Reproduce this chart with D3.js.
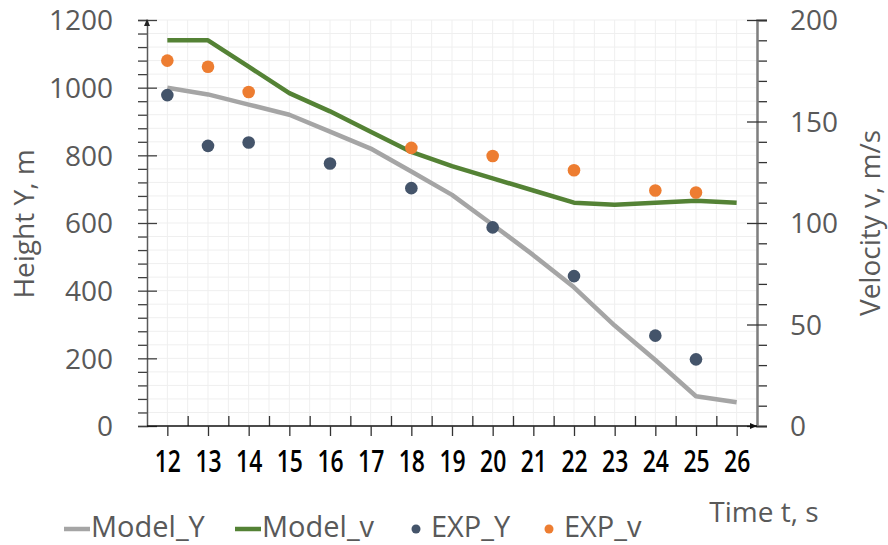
<!DOCTYPE html>
<html>
<head>
<meta charset="utf-8">
<script src="https://cdn.jsdelivr.net/npm/d3@7"></script>
<style>
  html, body { margin: 0; padding: 0; background: #fff; }
  svg { display: block; }
</style>
</head>
<body>
<svg id="chart" width="888" height="545"></svg>
<script>
// ---- data ----
const categories = [12, 13, 14, 15, 16, 17, 18, 19, 20, 21, 22, 23, 24, 25, 26];
const modelY = [1000, 980, 950, 920, 870, 820, 752, 683, 595, 505, 410, 297, 195, 88, 70];
const modelV = [190, 190, 177, 164, 155, 145, 135, 128, 122, 116, 110, 109, 110, 111, 110];
const expYTimes = [12, 13, 14, 16, 18, 20, 22, 24, 25];
const expYValues = [978, 828, 838, 776, 703, 587, 443, 267, 197];
const expVTimes = [12, 13, 14, 18, 20, 22, 24, 25];
const expVValues = [180, 177, 164.5, 137, 133, 126, 116, 115];
const leftTicks = [0, 200, 400, 600, 800, 1000, 1200];
const rightTicks = [0, 50, 100, 150, 200];
const legendItems = ["Model_Y", "Model_v", "EXP_Y", "EXP_v"];

// ---- layout ----
const svg = d3.select("#chart");
const L = 147, R = 757, T = 20, B = 426;
const x = d3.scaleLinear().domain([11.5, 26.5]).range([L, R]);
const yL = d3.scaleLinear().domain([0, 1200]).range([B, T]);
const yR = d3.scaleLinear().domain([0, 200]).range([B, T]);

const textFont = "'Open Sans', 'Noto Sans', sans-serif";
const textColor = "#595959";
const fs = 28;
const colors = { modelY: "#a5a5a5", modelV: "#548235", expY: "#44546a", expV: "#ed7d31" };

// ---- gridlines ----
const grid = svg.append("g");
grid.selectAll("line.h").data(d3.range(40, 1201, 40)).join("line")
  .attr("x1", L).attr("x2", R)
  .attr("y1", d => yL(d)).attr("y2", d => yL(d))
  .attr("stroke", "#efefef").attr("stroke-width", 1);
grid.selectAll("line.v").data(d3.range(12, 26.51, 0.5)).join("line")
  .attr("y1", T).attr("y2", B)
  .attr("x1", d => x(d)).attr("x2", d => x(d))
  .attr("stroke", "#efefef").attr("stroke-width", 1);

// ---- left axis ----
const leftMinor = svg.append("g").attr("transform", `translate(${L},0)`)
  .call(d3.axisLeft(yL).tickValues(d3.range(0, 1201, 40).filter(v => v % 200 !== 0)).tickSize(9).tickFormat(""));
leftMinor.select(".domain").remove();
leftMinor.selectAll(".tick line").attr("stroke", "#404040").attr("stroke-width", 1.3);

const leftMajor = svg.append("g").attr("transform", `translate(${L},0)`)
  .call(d3.axisLeft(yL).tickValues(leftTicks).tickSize(9).tickPadding(25).tickFormat(d3.format("d")));
leftMajor.select(".domain").attr("stroke", "#595959").attr("stroke-width", 1.5);
leftMajor.selectAll(".tick line").attr("x2", -9).attr("x1", 10).attr("stroke", "#404040").attr("stroke-width", 1.3);
leftMajor.selectAll(".tick text")
  .attr("font-family", textFont).attr("font-size", fs).attr("fill", textColor)
  .attr("dy", "0.35em");

// arrow at top of left axis
svg.append("path")
  .attr("d", d3.line()([[L - 3, T + 6], [L, T - 1], [L + 3, T + 6]]) + "Z")
  .attr("fill", "#222");

// ---- right axis ----
const rightMinor = svg.append("g").attr("transform", `translate(${R},0)`)
  .call(d3.axisRight(yR).tickValues(d3.range(0, 201, 10).filter(v => v % 50 !== 0)).tickSize(10).tickFormat(""));
rightMinor.select(".domain").remove();
rightMinor.selectAll(".tick line").attr("stroke", "#333").attr("stroke-width", 1.3);

const rightMajor = svg.append("g").attr("transform", `translate(${R},0)`)
  .call(d3.axisRight(yR).tickValues(rightTicks).tickSize(10).tickPadding(23).tickFormat(d3.format("d")));
rightMajor.select(".domain").attr("stroke", "#7f7f7f").attr("stroke-width", 2.5);
rightMajor.selectAll(".tick line").attr("x1", -10).attr("x2", 10).attr("stroke", "#333").attr("stroke-width", 1.3);
rightMajor.selectAll(".tick text")
  .attr("font-family", textFont).attr("font-size", fs).attr("fill", textColor)
  .attr("dy", "0.35em");

// ---- bottom axis ----
const bottomEdges = svg.append("g").attr("transform", `translate(0,${B})`)
  .call(d3.axisTop(x).tickValues(d3.range(12.5, 26.5, 1)).tickSize(10).tickFormat(""));
bottomEdges.select(".domain").remove();
bottomEdges.selectAll(".tick line").attr("stroke", "#333").attr("stroke-width", 1.3);

const bottom = svg.append("g").attr("transform", `translate(0,${B})`)
  .call(d3.axisBottom(x).tickValues(categories).tickSize(10).tickPadding(14).tickFormat(d3.format("d")));
bottom.select(".domain").attr("d", `M${L},0H${R}`).attr("stroke", "#111").attr("stroke-width", 1.5);
bottom.selectAll(".tick line").attr("stroke", "#333").attr("stroke-width", 1.3);
bottom.selectAll(".tick text")
  .attr("font-family", textFont)
  .attr("font-size", 31).attr("font-weight", 600).attr("fill", "#000")
  .attr("transform", "scale(0.74,1)");

// arrow at right end of x axis
svg.append("path")
  .attr("d", d3.line()([[R - 7, B - 3], [R, B], [R - 7, B + 3]]) + "Z")
  .attr("fill", "#111");

// ---- series ----
const pts = (xs, ys) => xs.map((t, i) => [t, ys[i]]);

svg.append("path")
  .datum(pts(categories, modelY))
  .attr("fill", "none").attr("stroke", colors.modelY).attr("stroke-width", 4.5)
  .attr("stroke-linejoin", "round")
  .attr("d", d3.line().x(d => x(d[0])).y(d => yL(d[1])));

svg.append("path")
  .datum(pts(categories, modelV))
  .attr("fill", "none").attr("stroke", colors.modelV).attr("stroke-width", 4.5)
  .attr("stroke-linejoin", "round")
  .attr("d", d3.line().x(d => x(d[0])).y(d => yR(d[1])));

svg.append("g").selectAll("circle")
  .data(pts(expYTimes, expYValues)).join("circle")
  .attr("cx", d => x(d[0])).attr("cy", d => yL(d[1])).attr("r", 6.3)
  .attr("fill", colors.expY);

svg.append("g").selectAll("circle")
  .data(pts(expVTimes, expVValues)).join("circle")
  .attr("cx", d => x(d[0])).attr("cy", d => yR(d[1])).attr("r", 6.3)
  .attr("fill", colors.expV);

// ---- axis titles ----
svg.append("text")
  .attr("transform", "translate(24,224) rotate(-90)")
  .attr("text-anchor", "middle").attr("dy", "0.35em")
  .attr("font-family", textFont).attr("font-size", fs).attr("fill", textColor)
  .text("Height Y, m");

svg.append("text")
  .attr("transform", "translate(870,223) rotate(-90)")
  .attr("text-anchor", "middle").attr("dy", "0.35em")
  .attr("font-family", textFont).attr("font-size", fs).attr("fill", textColor)
  .text("Velocity v, m/s");

svg.append("text")
  .attr("x", 764).attr("y", 512)
  .attr("text-anchor", "middle").attr("dy", "0.35em")
  .attr("font-family", textFont).attr("font-size", fs).attr("fill", textColor)
  .text("Time t, s");

// ---- legend ----
const legendY = 527;
const legendSpec = [
  { name: legendItems[0], type: "line", color: colors.modelY, x: 64 },
  { name: legendItems[1], type: "line", color: colors.modelV, x: 235 },
  { name: legendItems[2], type: "dot", color: colors.expY, x: 410 },
  { name: legendItems[3], type: "dot", color: colors.expV, x: 543 }
];
const lg = svg.append("g");
legendSpec.forEach(it => {
  if (it.type === "line") {
    lg.append("line").attr("x1", it.x).attr("x2", it.x + 26)
      .attr("y1", legendY + 2).attr("y2", legendY + 2)
      .attr("stroke", it.color).attr("stroke-width", 4.5);
    lg.append("text").attr("x", it.x + 27).attr("y", legendY).attr("dy", "0.35em")
      .attr("font-family", textFont).attr("font-size", 29).attr("fill", textColor)
      .text(it.name);
  } else {
    lg.append("circle").attr("cx", it.x + 6).attr("cy", legendY + 2).attr("r", 4.5)
      .attr("fill", it.color);
    lg.append("text").attr("x", it.x + 21).attr("y", legendY).attr("dy", "0.35em")
      .attr("font-family", textFont).attr("font-size", 29).attr("fill", textColor)
      .text(it.name);
  }
});
</script>
</body>
</html>
